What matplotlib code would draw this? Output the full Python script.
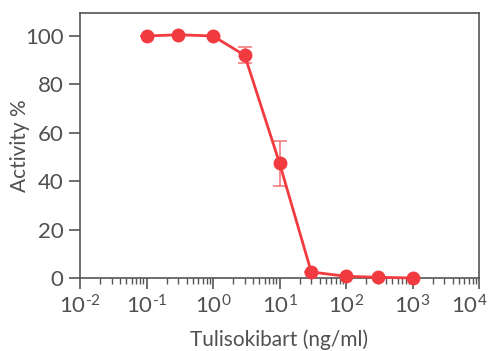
import matplotlib
matplotlib.use("Agg")
import matplotlib.pyplot as plt
import matplotlib.ticker as mticker
import matplotlib.transforms as mtransforms
import numpy as np

conc = [0.1, 0.3, 1, 3, 10, 30, 100, 300, 1000]
activity = [100, 100.5, 100, 92, 47.5, 2.5, 0.7, 0.3, 0.0]
err = [0, 0, 0, 3.3, 9.3, 0, 0, 0, 0]
xtick_vals = [1e-2, 1e-1, 1e0, 1e1, 1e2, 1e3, 1e4]
xtick_labels = ["10$^{\\text{-}2}$", "10$^{\\text{-}1}$", "10$^{0}$", "10$^{1}$", "10$^{2}$", "10$^{3}$", "10$^{4}$"]
ytick_vals = [0, 20, 40, 60, 80, 100]

plt.rcParams['font.family'] = ['Lato', 'DejaVu Sans']
plt.rcParams['mathtext.fontset'] = 'custom'
plt.rcParams['mathtext.rm'] = 'Lato'
plt.rcParams['mathtext.default'] = 'regular'

grey = '#555555'
tcol = '#505050'
red = '#F23B40'

fig = plt.figure(figsize=(4.91, 3.51), dpi=100)
ax = fig.add_axes([80/491, 1-278/351, (479-80)/491, (278-13)/351])

ax.errorbar(conc, activity, yerr=err, fmt='none', ecolor='#F47A7E', elinewidth=1.2,
            capsize=5, capthick=1.2, zorder=2, clip_on=False)
ax.plot(conc, activity, '-o', color=red, lw=2, ms=9, zorder=3, clip_on=False)

ax.set_xscale('log')
ax.set_xlim(1e-2, 1e4)
ax.set_ylim(0, 109.5)
ax.set_xticks(xtick_vals)
ax.set_xticklabels(xtick_labels)
ax.xaxis.set_minor_locator(mticker.LogLocator(base=10, subs=np.arange(2, 10), numticks=20))
ax.xaxis.set_minor_formatter(mticker.NullFormatter())
ax.set_yticks(ytick_vals)

for s in ax.spines.values():
    s.set_color(grey)
    s.set_linewidth(1.2)
ax.tick_params(axis='both', which='major', length=8, width=1.2, color=grey,
               labelsize=16, labelcolor=tcol, pad=4)
ax.tick_params(axis='x', which='minor', length=4, width=1.0, color=grey)

ax.set_xlabel('Tulisokibart (ng/ml)', fontsize=15, color=tcol, labelpad=8)
ax.set_ylabel('Activity %', fontsize=15, color=tcol)
ax.yaxis.set_label_coords(-0.125, 0.5)

# shift last x tick label left so it stays inside the figure
lbl = ax.get_xticklabels()[-1]
lbl.set_transform(lbl.get_transform() + mtransforms.ScaledTranslation(-10/100, 0, fig.dpi_scale_trans))

fig.savefig('out.png', dpi=100)
